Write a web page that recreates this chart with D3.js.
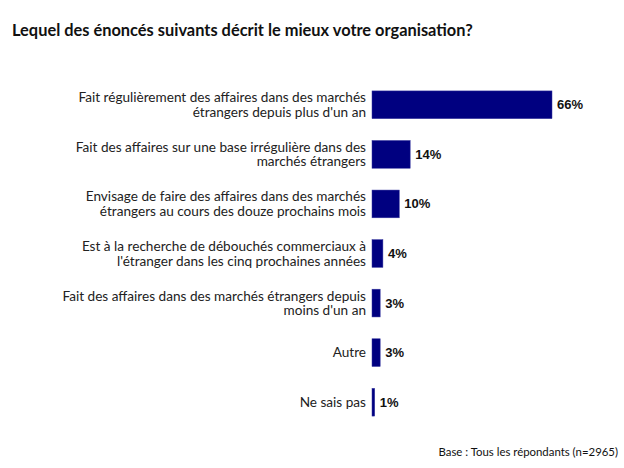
<!DOCTYPE html>
<html><head><meta charset="utf-8">
<script src="https://cdn.jsdelivr.net/npm/d3@7"></script>
<style>body{margin:0;background:#fff;}svg{display:block;}</style>
</head><body>
<script>
const title = "Lequel des énoncés suivants décrit le mieux votre organisation?";
const categories = [
  ["Fait régulièrement des affaires dans des marchés", "étrangers depuis plus d'un an"],
  ["Fait des affaires sur une base irrégulière dans des", "marchés étrangers"],
  ["Envisage de faire des affaires dans des marchés", "étrangers au cours des douze prochains mois"],
  ["Est à la recherche de débouchés commerciaux à", "l'étranger dans les cinq prochaines années"],
  ["Fait des affaires dans des marchés étrangers depuis", "moins d'un an"],
  ["Autre"],
  ["Ne sais pas"]
];
const values = [66, 14, 10, 4, 3, 3, 1];
const footnote = "Base : Tous les répondants (n=2965)";

const W = 624, H = 468;
const svg = d3.select("body").append("svg").attr("width", W).attr("height", H);
svg.append("rect").attr("width", W).attr("height", H).attr("fill", "#fff");

const idx = d3.range(values.length);
const y = d3.scaleBand().domain(idx).range([81, 426]).paddingInner(0.44).paddingOuter(0.2);
const x = d3.scaleLinear().domain([0, 66]).range([372, 552]);

svg.append("text").attr("x", 12).attr("y", 36)
  .attr("font-family", "Lato, 'Open Sans', sans-serif").attr("font-weight", "bold")
  .attr("font-size", 16.4).attr("fill", "#111").text(title);

const g = svg.append("g");
g.selectAll("rect.bar").data(idx).join("rect").attr("class", "bar")
  .attr("x", x(0)).attr("y", i => y(i))
  .attr("width", i => x(values[i]) - x(0)).attr("height", y.bandwidth())
  .attr("fill", "#000080").attr("stroke", "#3a3aa0").attr("stroke-width", 0.5);

g.selectAll("text.val").data(idx).join("text").attr("class", "val")
  .attr("x", i => x(values[i]) + 5).attr("y", i => y(i) + y.bandwidth() / 2)
  .attr("dy", "0.35em")
  .attr("font-family", "'Liberation Sans', Arial, sans-serif").attr("font-weight", "bold")
  .attr("font-size", 13).attr("fill", "#111")
  .text(i => values[i] + "%");

const lh = 14.5;
idx.forEach(i => {
  const lines = categories[i];
  const cy = y(i) + y.bandwidth() / 2;
  const t = g.append("text").attr("text-anchor", "end")
    .attr("font-family", "Lato, 'Open Sans', sans-serif").attr("font-size", 13.6).attr("fill", "#222");
  lines.forEach((ln, k) => {
    t.append("tspan").attr("x", 366)
      .attr("y", cy + (k - (lines.length - 1) / 2) * lh)
      .attr("dy", "0.35em").text(ln);
  });
});

svg.append("text").attr("x", 618).attr("y", 456).attr("text-anchor", "end")
  .attr("font-family", "Lato, 'Open Sans', sans-serif").attr("font-size", 11.4).attr("fill", "#111")
  .text(footnote);
</script>
</body></html>
